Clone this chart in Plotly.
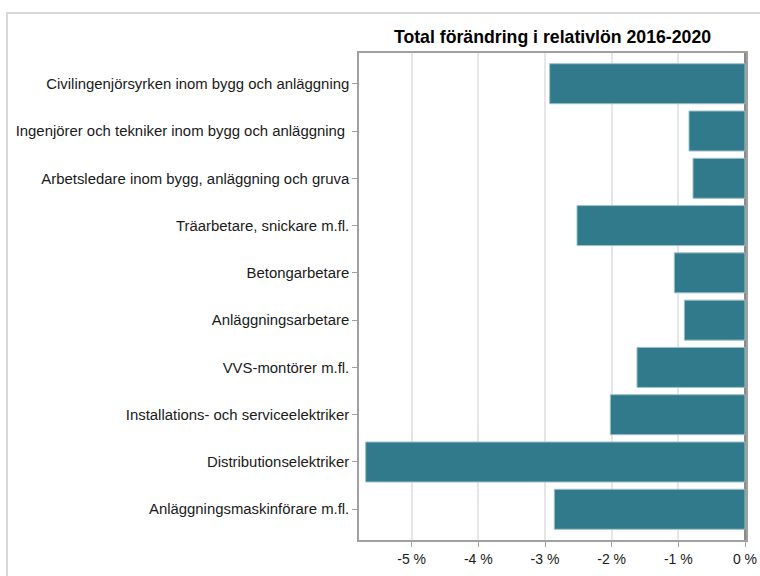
import plotly.graph_objects as go

categories = [
    "Civilingenjörsyrken inom bygg och anläggning",
    "Ingenjörer och tekniker inom bygg och anläggning ",
    "Arbetsledare inom bygg, anläggning och gruva",
    "Träarbetare, snickare m.fl.",
    "Betongarbetare",
    "Anläggningsarbetare",
    "VVS-montörer m.fl.",
    "Installations- och serviceelektriker",
    "Distributionselektriker",
    "Anläggningsmaskinförare m.fl.",
]
values = [-2.93, -0.84, -0.78, -2.52, -1.06, -0.91, -1.62, -2.02, -5.69, -2.86]
tick_vals = [-5, -4, -3, -2, -1, 0]
tick_text = ["-5 %", "-4 %", "-3 %", "-2 %", "-1 %", "0 %"]
title_text = "Total förändring i relativlön 2016-2020"

FONT = "Liberation Sans, Arial, sans-serif"

fig = go.Figure(go.Bar(
    x=values, y=categories, orientation="h",
    marker=dict(color="#317a8c", line=dict(color="#9cc0c8", width=1)),
    width=0.846,
))

L, R, T, B = 359, 14, 53, 36
W, H = 760, 576
pw, ph = W - L - R, H - T - B

fig.update_layout(
    width=W, height=H,
    margin=dict(l=L, r=R, t=T, b=B, autoexpand=False),
    paper_bgcolor="white", plot_bgcolor="white",
    font=dict(family=FONT, size=14, color="#1a1a1a"),
    title=dict(text="<b>" + title_text + "</b>", x=(L + pw / 2) / W, xanchor="center",
               y=1 - 37 / H, yanchor="middle", font=dict(size=17.7, color="black")),
    showlegend=False,
)
fig.update_xaxes(
    range=[-5.79, 0.015], tickvals=tick_vals, ticktext=tick_text,
    showgrid=True, gridcolor="#e6e6e6", gridwidth=1.5,
    showline=True, linecolor="#a0a0a0", linewidth=1.5, mirror=True,
    ticks="outside", ticklen=5, tickcolor="#a0a0a0",
    zeroline=True, zerolinecolor="#8a8a8a", zerolinewidth=2,
    tickfont=dict(size=14), automargin=False,
)
fig.update_yaxes(
    range=[9.65, -0.65], showgrid=False,
    showline=True, linecolor="#a0a0a0", linewidth=1.5, mirror=True,
    ticks="outside", ticklen=5, tickcolor="#a0a0a0",
    tickfont=dict(size=14.9), automargin=False,
)

# outer light frame (partially visible)
x_left = (7 - L) / pw
y_top = (H - B - 13) / ph
fig.add_shape(type="rect", xref="paper", yref="paper", x0=x_left, x1=1 + 40 / pw,
              y0=-80 / ph, y1=y_top, line=dict(color="#d8d8d8", width=2),
              fillcolor="rgba(0,0,0,0)", layer="below")

fig.write_html("out.html", config={"displayModeBar": False},
               post_script="document.body.style.margin='0';")
